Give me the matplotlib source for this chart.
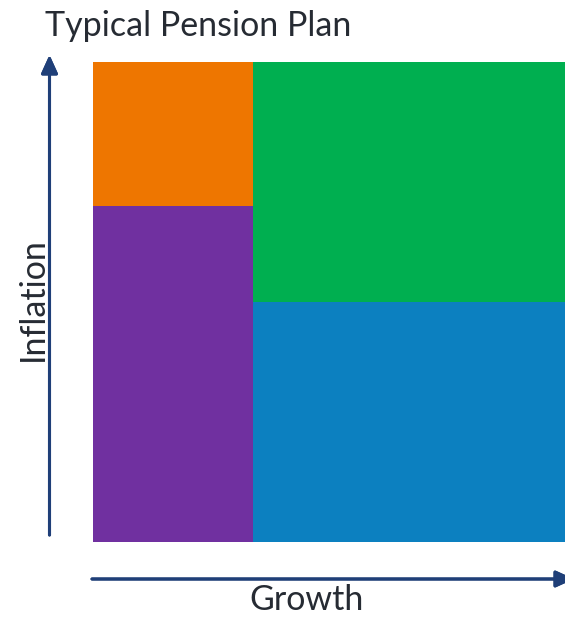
import matplotlib.pyplot as plt
from matplotlib.patches import Rectangle

# column widths (share of growth axis) and stacked heights (share of inflation axis)
columns = ["Low growth", "High growth"]
col_widths = [34, 66]
# segments in each column, bottom to top
segments = {
    "Low growth": [("Purple", 70), ("Orange", 30)],
    "High growth": [("Blue", 50), ("Green", 50)],
}
colors = {
    "Orange": "#EE7600",
    "Purple": "#7030A0",
    "Green": "#00AF50",
    "Blue": "#0C80C0",
}

title = "Typical Pension Plan"
xlabel = "Growth"
ylabel = "Inflation"

W, H = 565, 618
fig = plt.figure(figsize=(W / 100, H / 100), dpi=100)
fig.patch.set_facecolor("white")

# panel area in pixels
left, top, right, bottom = 93, 62, 565, 542
ax = fig.add_axes([left / W, 1 - bottom / H, (right - left) / W, (bottom - top) / H])
ax.set_xlim(0, sum(col_widths))
ax.set_ylim(0, 100)
ax.axis("off")

x0 = 0
for col, w in zip(columns, col_widths):
    y0 = 0
    for name, h in segments[col]:
        ax.add_patch(Rectangle((x0, y0), w, h, facecolor=colors[name],
                               edgecolor="none"))
        y0 += h
    x0 += w

# axis arrows drawn in figure pixels
arrow_color = "#1F3F78"
arrow_props = dict(arrowstyle="-|>,head_length=1.1,head_width=0.5",
                   color=arrow_color, lw=2.2, shrinkA=0, shrinkB=0)
fig.add_artist(plt.annotate("", xy=(49.5 / W, 1 - 55 / H),
                            xytext=(49.5 / W, 1 - 535 / H),
                            xycoords="figure fraction",
                            textcoords="figure fraction",
                            arrowprops=arrow_props))
fig.add_artist(plt.annotate("", xy=(574 / W, 1 - 579 / H),
                            xytext=(92 / W, 1 - 579 / H),
                            xycoords="figure fraction",
                            textcoords="figure fraction",
                            arrowprops=arrow_props, annotation_clip=False))

font = "Lato"
fs = 24.5
fig.text(45 / W, 1 - 26 / H, title, fontsize=fs, family=font,
         color="#262B33", ha="left", va="center")
fig.text(307 / W, 1 - 600 / H, xlabel, fontsize=fs, family=font,
         color="#262B33", ha="center", va="center")
fig.text(33 / W, 1 - 299 / H, ylabel, fontsize=fs, family=font,
         color="#262B33", ha="center", va="center", rotation=90)

fig.savefig("out.png", dpi=100)
